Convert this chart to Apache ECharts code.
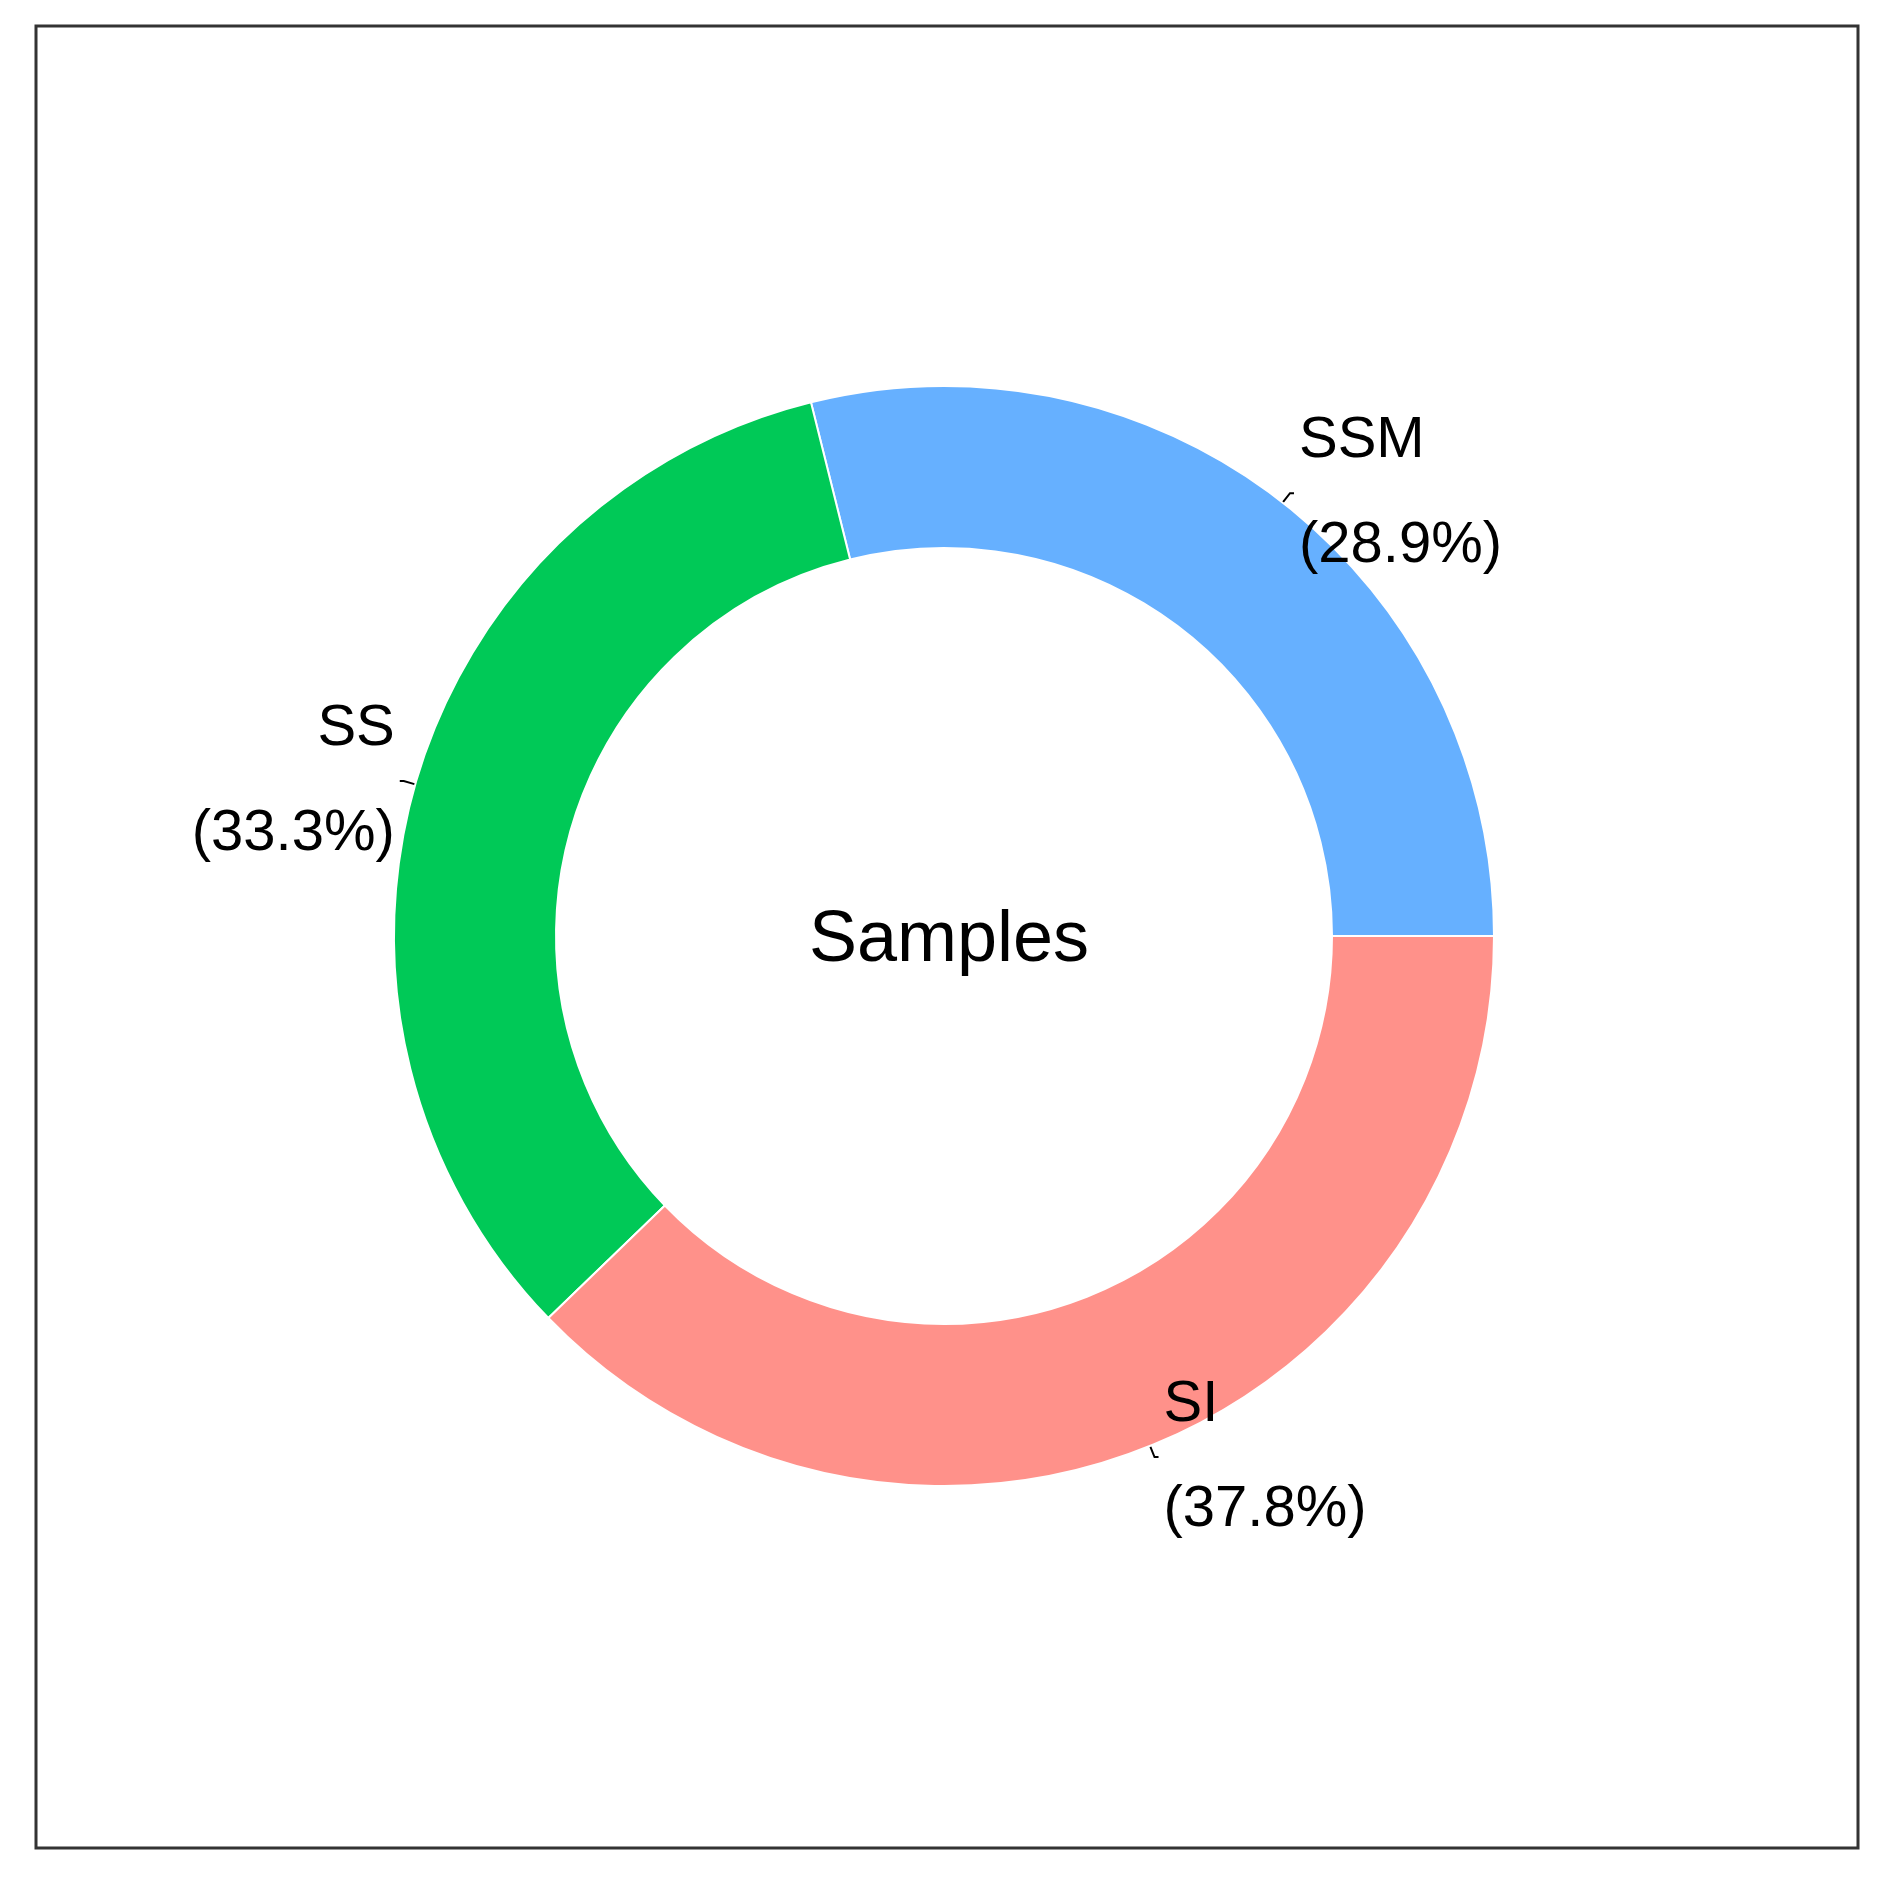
<!DOCTYPE html>
<html><head><meta charset="utf-8">
<script src="https://cdn.jsdelivr.net/npm/echarts@6/dist/echarts.min.js"></script>
<style>html,body{margin:0;padding:0;background:#fff}#c{width:1882px;height:1888px}</style>
</head><body><div id="c"></div>
<script>
const categories = ['SSM', 'SS', 'SI'];
const values = [13, 15, 17];
const colors = ['#66B0FF', '#00C957', '#FF918A'];
const total = values.reduce((a, b) => a + b, 0);
const chart = echarts.init(document.getElementById('c'));
chart.setOption({
  animation: false,
  graphic: [{type: 'rect', shape: {x: 36, y: 26, width: 1822, height: 1822},
    style: {fill: 'none', stroke: '#333', lineWidth: 3}}],
  title: {text: 'Samples', left: 944, top: 936, textAlign: 'center', textVerticalAlign: 'middle',
    textStyle: {fontSize: 72, fontWeight: 'normal', color: '#000', fontFamily: 'Liberation Sans'}},
  series: [{
    type: 'pie', center: [944, 936], radius: [388, 550],
    startAngle: 0, clockwise: false,
    itemStyle: {borderColor: '#fff', borderWidth: 2},
    label: {show: true, position: 'outside', fontSize: 58, lineHeight: 105, color: '#000',
      fontFamily: 'Liberation Sans',
      formatter: p => p.name + '\n(' + (p.value / total * 100).toFixed(1) + '%)'},
    labelLine: {show: true, length: 12, length2: 4, lineStyle: {color: '#000', width: 2}},
    data: categories.map((c, i) => ({name: c, value: values[i], itemStyle: {color: colors[i]}}))
  }]
});
</script></body></html>
